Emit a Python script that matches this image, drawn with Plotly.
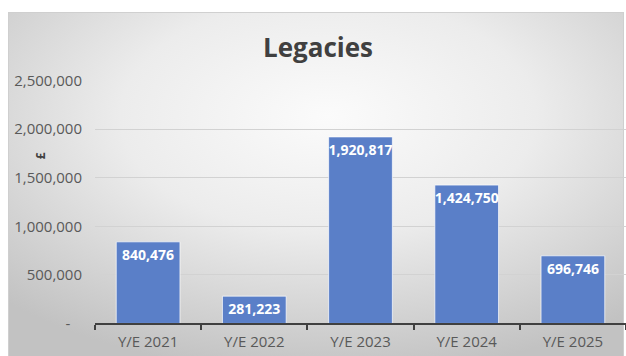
import base64
import plotly.graph_objects as go

categories = ["Y/E 2021", "Y/E 2022", "Y/E 2023", "Y/E 2024", "Y/E 2025"]
values = [840476, 281223, 1920817, 1424750, 696746]
labels = ["840,476", "281,223", "1,920,817", "1,424,750", "696,746"]
tick_vals = [0, 500000, 1000000, 1500000, 2000000, 2500000]
tick_text = ["-\u00a0\u00a0\u00a0", "500,000", "1,000,000", "1,500,000", "2,000,000", "2,500,000"]

W, H = 626, 366


def ly(y_target):
    # convert target pixel row to layout pixel row (renderer compresses vertically)
    return (y_target - 9) / 0.95


def py(y_target):
    return 1 - ly(y_target) / H


bx0, bx1 = 8, 624
by0, by1 = ly(10), ly(356) + 2
bw, bh = bx1 - bx0, by1 - by0
svg = f'''<svg xmlns="http://www.w3.org/2000/svg" width="{bw:.0f}" height="{bh:.0f}" viewBox="0 0 {bw:.0f} {bh:.0f}" preserveAspectRatio="none">
<defs><radialGradient id="g" cx="52%" cy="30%" r="75%" fx="52%" fy="30%">
<stop offset="0%" stop-color="#fbfbfb"/><stop offset="45%" stop-color="#ececec"/><stop offset="100%" stop-color="#c2c2c2"/></radialGradient></defs>
<rect x="0" y="0" width="{bw:.0f}" height="{bh:.0f}" fill="url(#g)" stroke="#cfcfcf" stroke-width="2"/>
</svg>'''
src = "data:image/svg+xml;base64," + base64.b64encode(svg.encode()).decode()

fig = go.Figure()
fig.add_trace(go.Bar(
    x=categories, y=values, width=0.6,
    marker=dict(color="#5a7fc8", line=dict(color="rgba(255,255,255,0.7)", width=1)),
    text=labels, textposition="inside", insidetextanchor="end", constraintext="none",
    textfont=dict(family="Open Sans", size=14, color="white", weight="bold"),
    textangle=0, cliponaxis=False, hoverinfo="skip",
))

fig.update_layout(
    width=W, height=H,
    margin=dict(l=0, r=0, t=0, b=0),
    paper_bgcolor="white", plot_bgcolor="rgba(0,0,0,0)",
    showlegend=False,
    images=[dict(source=src, xref="paper", yref="paper",
                 x=bx0 / W, y=1 - by0 / H, sizex=bw / W, sizey=bh / H,
                 sizing="stretch", xanchor="left", yanchor="top", layer="below")],
    xaxis=dict(domain=[95 / W, 1.0], showgrid=False, showline=True,
               linecolor="#404040", linewidth=2, ticks="outside",
               tickson="boundaries", ticklen=5, tickwidth=2, tickcolor="#404040",
               tickfont=dict(family="Open Sans", size=15, color="#595959"),
               ticklabelstandoff=4, fixedrange=True),
    yaxis=dict(domain=[py(323), py(79)], range=[0, 2500000],
               tickvals=tick_vals, ticktext=tick_text, showgrid=True,
               gridcolor="#d2d2d2", gridwidth=1, zeroline=False, showline=False,
               ticks="", tickfont=dict(family="Open Sans", size=15, color="#595959"),
               ticklabelstandoff=12, fixedrange=True),
    annotations=[
        dict(text="<b>Legacies</b>", x=318 / W, y=py(45), xref="paper", yref="paper",
             showarrow=False, font=dict(family="Open Sans", size=26, color="#404040"),
             xanchor="center", yanchor="middle"),
        dict(text="<b>£</b>", x=40 / W, y=py(155), xref="paper", yref="paper",
             showarrow=False, textangle=-90, font=dict(family="Open Sans", size=12, color="#404040"),
             xanchor="center", yanchor="middle"),
    ],
    uniformtext_mode=False,
)

fig.write_html("out.html")
